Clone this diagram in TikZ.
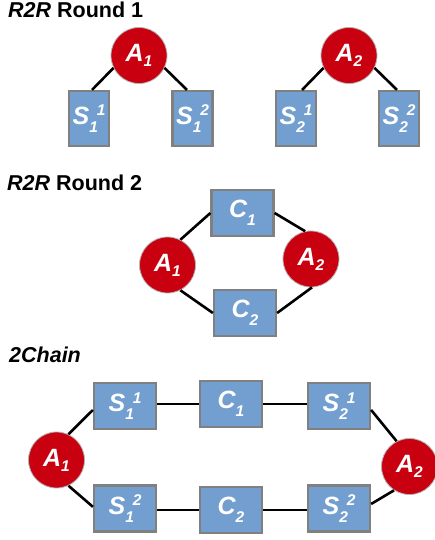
\documentclass[tikz,border=0pt]{standalone}
\usepackage{fontspec}
\setmainfont{Liberation Sans}
\definecolor{boxblue}{HTML}{729FCF}
\definecolor{agentred}{HTML}{C9000F}
\definecolor{edgegray}{HTML}{808080}
\newcommand\scrf{\fontsize{15.5}{15.5}\selectfont}
\newcommand\labSS[3]{#1\makebox[0pt][l]{\raisebox{-8pt}{\scrf #2}}\hspace{7.5pt}\raisebox{8.5pt}{\scrf #3}}
\newcommand\labA[2]{#1\raisebox{-5pt}{\scrf #2}}
\newcommand\labC[2]{#1\raisebox{-8pt}{\scrf #2}}
\begin{document}
\begin{tikzpicture}[x=1pt,y=-1pt,
  agent/.style={circle,fill=agentred,draw=edgegray!60,line width=0.8pt,minimum size=56pt,inner sep=0pt,text=white,font=\fontsize{25}{25}\selectfont\bfseries\itshape},
  tallbox/.style={rectangle,fill=boxblue,draw=edgegray,line width=2.2pt,minimum width=40pt,minimum height=55pt,inner sep=0pt,text=white,font=\fontsize{25}{25}\selectfont\bfseries\itshape},
  widebox/.style={tallbox,minimum width=62pt,minimum height=46pt},
  link/.style={line width=2.6pt,black},
  title/.style={anchor=base west,inner sep=0pt,font=\fontsize{21.5}{22}\selectfont\bfseries}]
\useasboundingbox (0,0) rectangle (435,540);

% Round 1
\node[title] (t1) at (8,18) {\textit{R2R} Round 1};
\node[agent] (ra1) at (139,55.5) {\labA{A}{1}};
\node[agent] (ra2) at (349,55.5) {\labA{A}{2}};
\node[tallbox] (rs11) at (89,118.5) {\labSS{S}{1}{1}};
\node[tallbox] (rs12) at (192.5,118.5) {\labSS{S}{1}{2}};
\node[tallbox] (rs21) at (296,118.5) {\labSS{S}{2}{1}};
\node[tallbox] (rs22) at (399,118.5) {\labSS{S}{2}{2}};
\draw[link] (ra1.206) -- (rs11.84);
\draw[link] (ra1.334) -- (rs12.101);
\draw[link] (ra2.206) -- (rs21.78);
\draw[link] (ra2.334) -- (rs22.94);

% Round 2
\node[title] (t2) at (7,190) {\textit{R2R} Round 2};
\node[widebox] (qc1) at (242.5,213) {\labC{C}{1}};
\node[widebox] (qc2) at (245,313) {\labC{C}{2}};
\node[agent] (qa1) at (167.5,265) {\labA{A}{1}};
\node[agent] (qa2) at (311,259) {\labA{A}{2}};
\draw[link] (qa1.63) -- (qc1.west);
\draw[link] (qc1.east) -- (qa2.102);
\draw[link] (qa1.-63) -- (qc2.west);
\draw[link] (qc2.east) -- (qa2.-88);

% 2Chain
\node[title] (t3) at (9,362) {\textit{2Chain}};
\node[agent] (ca1) at (56.5,460) {\labA{A}{1}};
\node[agent] (ca2) at (409.5,466.5) {\labA{A}{2}};
\node[widebox] (cs11) at (125,406) {\labSS{S}{1}{1}};
\node[widebox] (cc1) at (231,404) {\labC{C}{1}};
\node[widebox] (cs21) at (339,406) {\labSS{S}{2}{1}};
\node[widebox] (cs12) at (125,508.5) {\labSS{S}{1}{2}};
\node[widebox] (cc2) at (231,510) {\labC{C}{2}};
\node[widebox] (cs22) at (339,508.5) {\labSS{S}{2}{2}};
\draw[link] (ca1.65) -- (cs11.187);
\draw[link] (ca1.-65) -- (cs12.177);
\draw[link] (cc1.west) -- (cc1.west -| cs11.east);
\draw[link] (cc1.east) -- (cc1.east -| cs21.west);
\draw[link] (cc2.west) -- (cc2.west -| cs12.east);
\draw[link] (cc2.east) -- (cc2.east -| cs22.west);
\draw[link] (cs21.-7) -- (ca2.117);
\draw[link] (cs22.8) -- (ca2.237);
\end{tikzpicture}
\end{document}
